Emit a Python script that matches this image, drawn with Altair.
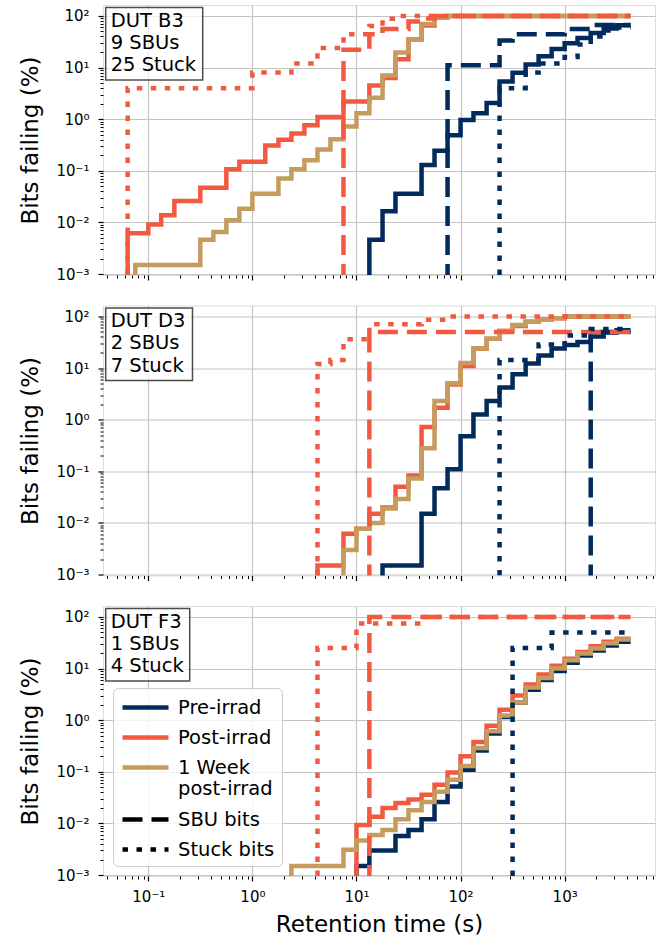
import math
import altair as alt
import pandas as pd

FONT = "DejaVu Sans"
NAVY = "#002b5c"
RED = "#f15a40"
TAN = "#c59b5e"
GRID = "#c4c4c4"

# ---------------- legend / style keys ----------------
KEYS = ["Pre-irrad", "Post-irrad", "1 Week post-irrad", "SBU bits", "Stuck bits",
        "Pre-irrad SBU", "Post-irrad SBU", "Pre-irrad stuck", "Post-irrad stuck"]
KEY_COLORS = [NAVY, RED, TAN, "black", "black", NAVY, RED, NAVY, RED]
SOLID, DASH, DOT = [1, 0], [20, 9], [5.5, 8.5]
KEY_DASHES = [SOLID, SOLID, SOLID, DASH, DOT, DASH, DASH, DOT, DOT]
LEGEND_KEYS = KEYS[:5]

T_END = 4300      # last retention time measured (s)
FLOOR = 1e-6      # 0 % failing (below the log axis)

# ---------------- DUT B3 ----------------
B3_PRE_T = [13.3, 17.8, 23.7, 42.2, 56.2, 75, 100, 133, 178, 237, 316, 422, 562, 750, 1000, 1330, 1780, 2370, 3160]
B3_PRE_Y = [0.0046, 0.0165, 0.036, 0.13, 0.245, 0.49, 0.97, 1.3, 2.05, 5.4, 7.9, 11.5, 16.6, 23, 29.7, 37.5, 47, 57, 66]
B3_POST_T = [0.0633, 0.1, 0.133, 0.178, 0.316, 0.562, 0.75, 1.33, 1.78, 2.37, 3.16, 4.22, 7.5, 13.3, 17.8, 23.7, 31.6, 42.2, 56.2, 75]
B3_POST_Y = [0.0062, 0.0091, 0.0138, 0.026, 0.047, 0.107, 0.15, 0.31, 0.40, 0.53, 0.76, 1.1, 2.2, 4.5, 6.3, 14.5, 35, 65, 93, 100]
B3_WEEK_T = [0.075, 0.316, 0.422, 0.562, 0.75, 1.0, 1.78, 2.37, 3.16, 4.22, 5.62, 7.5, 10, 13.3, 17.8, 23.7, 31.6, 42.2, 56.2, 75]
B3_WEEK_Y = [0.0015, 0.0046, 0.0065, 0.011, 0.0185, 0.036, 0.071, 0.107, 0.16, 0.26, 0.41, 0.72, 1.3, 2.6, 7, 19.5, 35, 70, 93, 100]
B3_PRE_SBU_T = [75, 237, 316, 1000, 1780]
B3_PRE_SBU_Y = [11.1, 33.3, 44.4, 55.6, 66.7]
B3_POST_SBU_T = [7.5, 13.3, 17.8, 31.6, 42.2, 56.2]
B3_POST_SBU_Y = [22.2, 44.4, 55.6, 77.8, 88.9, 100]
B3_PRE_STUCK_T = [237, 422, 562, 1000, 1330, 1780, 2370, 3160]
B3_PRE_STUCK_Y = [4, 8, 12, 16, 28, 40, 52, 60]
B3_POST_STUCK_T = [0.0633, 1.0, 2.37, 4.22, 7.5, 13.3, 17.8, 23.7]
B3_POST_STUCK_Y = [4, 8, 12, 24, 44, 64, 88, 100]

# ---------------- DUT D3 ----------------
D3_PRE_T = [17.8, 42.2, 56.2, 75, 100, 133, 178, 237, 316, 422, 562, 750, 1000, 1330, 1780, 2370, 3160]
D3_PRE_Y = [0.0015, 0.015, 0.047, 0.11, 0.48, 1.26, 2.3, 4.2, 7.6, 12.3, 17.6, 24, 28, 32, 41, 49, 54]
D3_POST_T = [4.22, 7.5, 10, 13.3, 17.8, 23.7, 31.6, 42.2, 56.2, 75, 100, 133, 178, 237, 316, 422, 562, 750, 1000]
D3_POST_Y = [0.0015, 0.0062, 0.0077, 0.015, 0.02, 0.05, 0.083, 0.72, 1.7, 4.8, 11, 24, 37, 52, 65, 79, 87, 92, 100]
D3_WEEK_T = [7.5, 10, 13.3, 17.8, 23.7, 31.6, 42.2, 56.2, 75, 100, 133, 178, 237, 316, 422, 562, 750, 1000]
D3_WEEK_Y = [0.003, 0.0077, 0.01, 0.019, 0.029, 0.073, 0.28, 2.3, 5.1, 12.5, 24, 37, 52, 68, 79, 87, 92, 100]
D3_PRE_SBU_T = [1780]
D3_PRE_SBU_Y = [50]
D3_POST_SBU_T = [13.3]
D3_POST_SBU_Y = [50]
D3_PRE_STUCK_T = [237, 562, 1000, 1780]
D3_PRE_STUCK_Y = [14.3, 28.6, 42.9, 57.1]
D3_POST_STUCK_T = [4.22, 5.62, 7.5, 13.3, 42.2, 75]
D3_POST_STUCK_Y = [12, 14.3, 36, 71, 86, 100]

# ---------------- DUT F3 ----------------
F3_PRE_T = [10, 13.3, 23.7, 31.6, 42.2, 56.2, 75, 100, 133, 178, 237, 316, 422, 562, 750, 1000, 1330, 1780, 2370, 3160]
F3_PRE_Y = [0.0015, 0.003, 0.0057, 0.0075, 0.012, 0.026, 0.052, 0.11, 0.26, 0.55, 1.15, 2.2, 3.9, 6.0, 9.0, 13, 18, 22.5, 28, 33]
F3_POST_T = [10, 13.3, 17.8, 23.7, 31.6, 42.2, 56.2, 75, 100, 133, 178, 237, 316, 422, 562, 750, 1000, 1330, 1780, 2370, 3160]
F3_POST_Y = [0.0093, 0.0135, 0.02, 0.025, 0.029, 0.036, 0.056, 0.097, 0.2, 0.38, 0.78, 1.6, 3.0, 4.9, 7.7, 11.3, 15.5, 21, 27, 33, 38]
F3_WEEK_T = [2.37, 7.5, 10, 13.3, 17.8, 23.7, 31.6, 42.2, 56.2, 75, 100, 133, 178, 237, 316, 422, 562, 750, 1000, 1330, 1780, 2370, 3160]
F3_WEEK_Y = [0.0015, 0.0031, 0.0047, 0.006, 0.0075, 0.012, 0.018, 0.026, 0.041, 0.07, 0.13, 0.29, 0.61, 1.23, 2.2, 4.3, 6.6, 10, 14.5, 19.5, 24.5, 31, 36.5]
F3_POST_SBU_T = [13.3]
F3_POST_SBU_Y = [100]
F3_PRE_STUCK_T = [316, 750]
F3_PRE_STUCK_Y = [25, 50]
F3_POST_STUCK_T = [4.22, 10, 42.2]
F3_POST_STUCK_Y = [25, 75, 100]

ANN_B3 = "DUT B3\n9 SBUs\n25 Stuck"
ANN_D3 = "DUT D3\n2 SBUs\n7 Stuck"
ANN_F3 = "DUT F3\n1 SBUs\n4 Stuck"

# ---------------- axes ----------------
X_DOMAIN = [0.0367, 7380]
Y_DOMAIN = [0.00096, 163]
X_MAJOR = [0.1, 1, 10, 100, 1000]
Y_MAJOR = [0.001, 0.01, 0.1, 1, 10, 100]
X_MINOR = [m * 10.0 ** e for e in range(-2, 4) for m in range(2, 10)]
X_MINOR = [v for v in X_MINOR if X_DOMAIN[0] <= v <= X_DOMAIN[1]]
Y_MINOR = [m * 10.0 ** e for e in range(-4, 3) for m in range(2, 10)]
Y_MINOR = [v for v in Y_MINOR if Y_DOMAIN[0] <= v <= Y_DOMAIN[1]]

W, H = 552, 270
LW = 4.5

SUP = str.maketrans("-0123456789", "⁻⁰¹²³⁴⁵⁶⁷⁸⁹")


def pow10_label(v):
    return "10" + str(round(math.log10(v))).translate(SUP)


def label_expr(values):
    parts = [f"datum.value > {v / 2} ? '{pow10_label(v)}' : " for v in sorted(values, reverse=True)]
    return "".join(parts) + "''"


def build_df(curves):
    rows = []
    for key, T, Y in curves:
        ts = [T[0]] + list(T)
        ys = [FLOOR] + list(Y)
        if ts[-1] < T_END:
            ts.append(T_END)
            ys.append(Y[-1])
        for i, (t, y) in enumerate(zip(ts, ys)):
            rows.append({"key": key, "t": t, "pct": y, "idx": i})
    return pd.DataFrame(rows)


def panel(curves, ann, box_w, last):
    df = build_df(curves)
    xscale = alt.Scale(type="log", domain=X_DOMAIN, nice=False)
    yscale = alt.Scale(type="log", domain=Y_DOMAIN, nice=False)
    stroke_scale = alt.Scale(domain=KEYS, range=KEY_COLORS)
    dash_scale = alt.Scale(domain=KEYS, range=KEY_DASHES)

    x_major = alt.Axis(values=X_MAJOR, orient="bottom", grid=True, gridColor=GRID, gridWidth=1.2,
                       tickSize=5, tickWidth=1.2, tickColor="black", domain=False,
                       labels=last, labelExpr=label_expr(X_MAJOR), labelFont=FONT, labelFontSize=15,
                       labelColor="black", labelPadding=8, labelFlush=False, labelOverlap=False,
                       titleFont=FONT, titleFontSize=23, titleFontWeight="normal", titleColor="black",
                       titleBaseline="alphabetic", titleX=W / 2, titleY=55.5)
    x_minor = alt.Axis(values=X_MINOR, orient="bottom", grid=False, labels=False, tickSize=3,
                       tickWidth=1, tickColor="black", domain=False, title=None)
    y_major = alt.Axis(values=Y_MAJOR, orient="left", grid=True, gridColor=GRID, gridWidth=1.2,
                       tickSize=5, tickWidth=1.2, tickColor="black", domain=False,
                       labelExpr=label_expr(Y_MAJOR), labelFont=FONT, labelFontSize=15,
                       labelColor="black", labelPadding=9, labelOverlap=False,
                       titleFont=FONT, titleFontSize=23, titleFontWeight="normal", titleColor="black",
                       titleBaseline="alphabetic", titleX=-66, titleY=H / 2)
    y_minor = alt.Axis(values=Y_MINOR, orient="left", grid=False, labels=False, tickSize=3,
                       tickWidth=1, tickColor="black", domain=False, title=None)

    legend = None
    if last:
        legend = alt.Legend(
            orient="none", legendX=10, legendY=82, title=None, values=LEGEND_KEYS,
            symbolType="M-1,0H3.6", symbolSize=400, symbolStrokeWidth=LW,
            labelFont=FONT, labelFontSize=19.5, labelColor="black", labelOffset=33,
            rowPadding=8, padding=7, fillColor="rgba(255,255,255,0.8)",
            strokeColor="#cccccc", cornerRadius=5, labelLimit=300,
            labelExpr="datum.label == '1 Week post-irrad' ? ['1 Week', 'post-irrad'] : datum.label",
        )

    layers = []
    for i, (key, _, _) in enumerate(curves):
        if i == 0:
            xa, ya = x_major, y_major
        elif i == 1:
            xa, ya = x_minor, y_minor
        else:
            xa, ya = None, None
        xt = "Retention time (s)" if (last and i == 0) else None
        yt = "Bits failing (%)" if i == 0 else None
        lay = alt.Chart(df).transform_filter(alt.datum.key == key).mark_line(
            interpolate="step-after", strokeWidth=LW, clip=True
        ).encode(
            x=alt.X("t:Q", scale=xscale, axis=xa, title=xt),
            y=alt.Y("pct:Q", scale=yscale, axis=ya, title=yt),
            stroke=alt.Stroke("key:N", scale=stroke_scale, legend=legend if i == 0 else None),
            strokeDash=alt.StrokeDash("key:N", scale=dash_scale, legend=legend if i == 0 else None),
            order=alt.Order("idx:Q"),
        )
        layers.append(lay)

    ann_df = pd.DataFrame({"text": [ann]})
    box = alt.Chart(ann_df).mark_rect(fill="white", fillOpacity=0.7, stroke="black",
                                      strokeOpacity=0.7, strokeWidth=1.5).encode(
        x=alt.value(2.7), x2=alt.value(box_w), y=alt.value(2.6), y2=alt.value(75))
    txt = alt.Chart(ann_df).mark_text(align="left", baseline="alphabetic", font=FONT, fontSize=19.5,
                                      lineHeight=22.3, lineBreak="\n", color="black").encode(
        x=alt.value(7.7), y=alt.value(21.6), text="text:N")
    layers += [box, txt]
    return alt.layer(*layers).resolve_axis(x="independent", y="independent").properties(width=W, height=H)


p1 = panel([
    ("Pre-irrad", B3_PRE_T, B3_PRE_Y),
    ("Post-irrad", B3_POST_T, B3_POST_Y),
    ("1 Week post-irrad", B3_WEEK_T, B3_WEEK_Y),
    ("Pre-irrad SBU", B3_PRE_SBU_T, B3_PRE_SBU_Y),
    ("Post-irrad SBU", B3_POST_SBU_T, B3_POST_SBU_Y),
    ("Pre-irrad stuck", B3_PRE_STUCK_T, B3_PRE_STUCK_Y),
    ("Post-irrad stuck", B3_POST_STUCK_T, B3_POST_STUCK_Y),
], ANN_B3, 99.7, False)

p2 = panel([
    ("Pre-irrad", D3_PRE_T, D3_PRE_Y),
    ("Post-irrad", D3_POST_T, D3_POST_Y),
    ("1 Week post-irrad", D3_WEEK_T, D3_WEEK_Y),
    ("Pre-irrad SBU", D3_PRE_SBU_T, D3_PRE_SBU_Y),
    ("Post-irrad SBU", D3_POST_SBU_T, D3_POST_SBU_Y),
    ("Pre-irrad stuck", D3_PRE_STUCK_T, D3_PRE_STUCK_Y),
    ("Post-irrad stuck", D3_POST_STUCK_T, D3_POST_STUCK_Y),
], ANN_D3, 89.5, False)

p3 = panel([
    ("Pre-irrad", F3_PRE_T, F3_PRE_Y),
    ("Post-irrad", F3_POST_T, F3_POST_Y),
    ("1 Week post-irrad", F3_WEEK_T, F3_WEEK_Y),
    ("Post-irrad SBU", F3_POST_SBU_T, F3_POST_SBU_Y),
    ("Pre-irrad stuck", F3_PRE_STUCK_T, F3_PRE_STUCK_Y),
    ("Post-irrad stuck", F3_POST_STUCK_T, F3_POST_STUCK_Y),
], ANN_F3, 86.7, True)

chart = alt.vconcat(p1, p2, p3, spacing=30.5, bounds="flush",
                    padding={"left": 18, "top": 4, "right": 5, "bottom": 3}).resolve_scale(
    stroke="independent", strokeDash="independent"
).configure_view(stroke="black", strokeWidth=1.2).configure(font=FONT)

chart.save("out.html", embed_options={"renderer": "svg", "actions": False})
